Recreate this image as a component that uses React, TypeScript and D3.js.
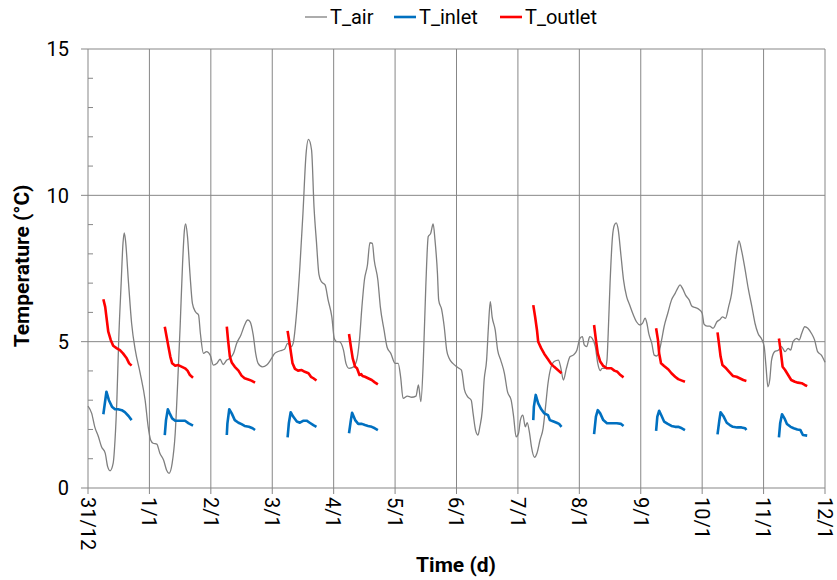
import React from "react";
import * as d3 from "d3";

const dayLabels = ["31/12", "1/1", "2/1", "3/1", "4/1", "5/1", "6/1", "7/1", "8/1", "9/1", "10/1", "11/1", "12/1"];
const yTicks = [0, 5, 10, 15];

const airT = [0.00,0.06,0.11,0.17,0.22,0.28,0.32,0.36,0.41,0.44,0.47,0.50,0.54,0.57,0.59,0.61,0.66,0.71,0.77,0.85,0.93,0.98,
1.02,1.06,1.12,1.17,1.23,1.28,1.32,1.37,1.42,1.46,1.50,1.54,1.57,1.59,1.62,1.66,1.70,1.75,1.80,1.83,1.88,1.93,1.99,
2.04,2.10,2.15,2.20,2.26,2.31,2.37,2.42,2.49,2.55,2.60,2.64,2.69,2.73,2.77,2.84,2.91,2.98,
3.04,3.13,3.20,3.25,3.31,3.34,3.40,3.45,3.50,3.55,3.59,3.64,3.68,3.72,3.76,3.80,3.86,3.91,3.97,
4.01,4.05,4.09,4.16,4.20,4.25,4.31,4.37,4.42,4.46,4.50,4.55,4.59,4.63,4.66,4.72,4.76,4.82,4.87,4.93,
5.00,5.05,5.09,5.13,5.20,5.27,5.34,5.38,5.42,5.46,5.50,5.54,5.58,5.62,5.65,5.69,5.71,5.76,5.80,5.84,5.88,5.94,
6.00,6.04,6.08,6.13,6.18,6.24,6.27,6.31,6.35,6.38,6.42,6.45,6.49,6.52,6.55,6.58,6.63,6.67,6.72,6.78,6.83,6.89,6.93,6.97,
7.01,7.04,7.08,7.12,7.15,7.19,7.22,7.27,7.31,7.36,7.41,7.45,7.49,7.54,7.59,7.66,7.70,7.74,7.79,7.85,7.90,7.96,
8.01,8.05,8.08,8.12,8.17,8.21,8.26,8.30,8.34,8.37,8.42,8.45,8.47,8.50,8.54,8.57,8.60,8.63,8.68,8.72,8.77,8.82,8.88,8.93,8.99,
9.03,9.07,9.10,9.13,9.18,9.22,9.26,9.30,9.34,9.38,9.44,9.50,9.56,9.60,9.64,9.68,9.73,9.79,9.83,9.88,9.95,
10.00,10.03,10.08,10.12,10.18,10.24,10.29,10.33,10.38,10.43,10.48,10.52,10.56,10.60,10.64,10.70,10.75,10.81,10.86,10.91,10.97,
11.01,11.04,11.07,11.10,11.13,11.18,11.24,11.29,11.35,11.40,11.44,11.48,11.54,11.58,11.62,11.67,11.72,11.78,11.83,11.88,11.94,12.00];

const airV = [2.80,2.55,2.09,1.75,1.41,1.19,0.73,0.59,0.85,1.64,3.0,5.06,7.0,8.37,8.72,8.47,7.0,5.63,4.71,3.92,3.0,2.09,
1.64,1.53,1.50,1.19,0.96,0.61,0.50,0.84,1.87,3.58,5.51,7.68,8.81,9.02,8.59,7.33,6.31,6.02,5.91,5.28,4.60,4.66,4.54,
4.20,4.26,4.40,4.22,4.37,4.43,4.60,4.94,5.23,5.57,5.74,5.68,5.23,4.60,4.26,4.14,4.20,4.40,
4.60,4.69,4.74,4.94,4.83,4.94,6.08,7.56,9.39,11.4,11.91,11.55,9.6,8.4,7.3,7.05,6.94,6.42,5.85,
5.11,5.0,5.0,4.71,4.26,4.09,4.12,4.32,5.06,6.19,7.1,7.62,8.38,8.36,7.79,7.1,6.19,5.40,4.81,4.60,
4.26,4.26,3.80,3.06,3.14,3.10,3.14,3.52,2.95,4.37,6.88,8.59,8.70,9.02,8.47,7.33,6.42,6.08,5.51,4.71,4.43,4.26,
4.15,4.09,4.03,3.35,3.12,3.0,2.55,1.98,1.81,2.09,2.66,3.69,4.37,5.51,6.37,5.85,5.40,4.71,4.37,3.92,3.29,3.0,2.44,1.75,
1.87,2.32,2.49,2.09,2.23,1.87,1.41,1.05,1.19,1.64,2.04,2.78,3.58,4.14,4.32,4.37,4.09,3.69,4.09,4.49,4.54,4.71,
5.11,5.17,4.89,4.83,5.17,5.11,4.83,4.26,4.01,4.09,4.09,4.37,5.28,6.99,8.59,8.98,9.06,8.87,7.90,7.1,6.54,6.25,5.91,5.68,5.57,
5.63,5.80,5.63,5.28,4.94,4.54,4.51,4.66,5.06,5.51,5.97,6.42,6.65,6.82,6.94,6.82,6.59,6.42,6.22,6.17,6.10,
5.97,5.60,5.53,5.53,5.46,5.68,5.76,5.85,5.80,6.19,6.65,7.33,8.02,8.44,8.13,7.45,6.82,6.19,5.63,5.28,5.08,
4.83,4.14,3.46,3.69,4.37,4.66,4.71,4.83,4.66,4.77,4.71,5.0,5.11,5.06,5.28,5.51,5.46,5.28,5.06,4.66,4.54,4.30];

// null separates daily operating periods
const outletT = [0.25,0.28,0.30,0.33,0.37,0.41,0.47,0.52,0.57,0.63,0.67,0.71,null,
1.25,1.28,1.31,1.34,1.37,1.42,1.47,1.53,1.58,1.62,1.66,1.71,null,
2.26,2.28,2.31,2.34,2.39,2.45,2.50,2.55,2.61,2.66,2.72,null,
3.25,3.29,3.33,3.37,3.42,3.48,3.53,3.59,3.63,3.67,3.72,null,
4.25,4.28,4.31,4.35,4.38,4.42,4.45,4.47,4.51,4.56,4.62,4.67,4.72,null,
7.25,7.28,7.31,7.33,7.38,7.43,7.49,7.54,7.59,7.65,7.71,null,
8.24,8.27,8.30,8.34,8.39,8.45,8.52,8.57,8.62,8.67,8.72,null,
9.25,9.28,9.30,9.33,9.38,9.45,9.50,9.56,9.61,9.67,9.72,null,
10.25,10.28,10.30,10.33,10.39,10.44,10.50,10.56,10.61,10.67,10.72,null,
11.25,11.28,11.31,11.35,11.40,11.45,11.51,11.56,11.62,11.67,11.71];
const outletV = [6.45,6.19,5.85,5.34,5.06,4.86,4.77,4.71,4.60,4.43,4.26,4.18,null,
5.51,5.17,4.83,4.49,4.26,4.18,4.20,4.14,4.09,4.01,3.86,3.77,null,
5.51,5.06,4.49,4.29,4.14,4.01,3.84,3.75,3.71,3.67,3.60,null,
5.37,4.83,4.26,4.07,4.01,4.03,3.97,3.92,3.80,3.75,3.67,null,
5.26,4.83,4.43,4.14,4.09,3.86,3.89,3.83,3.80,3.75,3.69,3.61,3.54,null,
6.25,5.85,5.40,5.0,4.77,4.58,4.40,4.24,4.14,4.03,3.92,null,
5.57,5.06,4.60,4.32,4.17,4.09,4.09,4.01,3.97,3.86,3.78,null,
5.46,5.06,4.60,4.26,4.17,4.05,3.92,3.80,3.72,3.67,3.63,null,
5.32,4.83,4.49,4.20,4.09,3.97,3.83,3.80,3.75,3.69,3.66,null,
5.11,4.66,4.14,4.03,3.86,3.69,3.63,3.60,3.58,3.52,3.48];

const inletT = [0.25,0.30,0.34,0.39,0.44,0.49,0.55,0.60,0.66,0.71,null,
1.25,1.27,1.30,1.33,1.37,1.42,1.50,1.58,1.64,1.71,null,
2.26,2.27,2.30,2.34,2.39,2.45,2.50,2.55,2.62,2.68,2.72,null,
3.25,3.27,3.30,3.34,3.40,3.45,3.51,3.56,3.61,3.67,3.72,null,
4.25,4.28,4.30,4.35,4.40,4.46,4.51,4.56,4.62,4.67,4.72,null,
7.25,7.26,7.29,7.33,7.38,7.43,7.49,7.52,7.58,7.63,7.67,7.71,null,
8.24,8.27,8.30,8.34,8.39,8.45,8.53,8.61,8.68,8.72,null,
9.25,9.27,9.30,9.34,9.38,9.44,9.50,9.56,9.61,9.67,9.72,null,
10.25,10.28,10.30,10.35,10.40,10.45,10.50,10.57,10.64,10.70,10.72,null,
11.25,11.27,11.30,11.34,11.38,11.44,11.49,11.55,11.60,11.64,11.71];
const inletV = [2.52,3.29,3.0,2.78,2.69,2.69,2.66,2.59,2.46,2.32,null,
1.81,2.32,2.69,2.55,2.38,2.30,2.30,2.30,2.21,2.13,null,
1.81,2.21,2.69,2.55,2.32,2.23,2.18,2.12,2.09,2.04,1.98,null,
1.73,2.21,2.59,2.44,2.27,2.23,2.30,2.30,2.23,2.15,2.09,null,
1.87,2.32,2.57,2.32,2.19,2.19,2.15,2.12,2.09,2.04,1.98,null,
2.32,2.78,3.18,2.89,2.69,2.55,2.49,2.32,2.27,2.23,2.19,2.09,null,
1.84,2.44,2.66,2.55,2.32,2.21,2.21,2.21,2.19,2.12,null,
1.95,2.44,2.64,2.46,2.27,2.19,2.12,2.09,2.09,2.04,1.98,null,
1.83,2.32,2.59,2.44,2.23,2.15,2.09,2.07,2.07,2.04,1.98,null,
1.73,2.21,2.52,2.38,2.19,2.09,2.04,2.0,1.98,1.81,1.79];

const seriesNames = ["T_air", "T_inlet", "T_outlet"];
const seriesColors = ["#7f7f7f", "#0070c0", "#ff0000"];
const seriesWidths = [1.3, 2.6, 2.6];

const W = 837, H = 580;
const FONT = "Roboto, 'Liberation Sans', sans-serif";

export default function App() {
  const x = d3.scaleLinear().domain([0, 12]).range([88, 825]);
  const y = d3.scaleLinear().domain([0, 15]).range([488, 49]);

  const pts = (ts: (number | null)[], vs: (number | null)[]) =>
    ts.map((t, i) => [t, vs[i]] as [number | null, number | null]);

  const lineSeg = d3.line<[number | null, number | null]>()
    .defined(d => d[0] !== null && d[1] !== null)
    .x(d => x(d[0] as number))
    .y(d => y(d[1] as number));
  const lineAir = d3.line<[number | null, number | null]>()
    .x(d => x(d[0] as number))
    .y(d => y(d[1] as number))
    .curve(d3.curveMonotoneX);

  const days = d3.range(0, 13);
  const minor = d3.range(1, 15).filter(v => v % 5 !== 0);
  const grid = "#878787";

  const legendItems = [
    { x0: 305, tx: 330 },
    { x0: 394, tx: 419 },
    { x0: 500, tx: 525 },
  ];

  return (
    <svg width={W} height={H} style={{ display: "block", position: "absolute", left: 0, top: 0 }} fontFamily={FONT}>
      <rect width={W} height={H} fill="#fff" />
      {days.slice(1).map(d => (
        <line key={"vg" + d} x1={x(d)} x2={x(d)} y1={y(15)} y2={y(0)} stroke={grid} strokeWidth={1} />
      ))}
      {yTicks.slice(1).map(v => (
        <line key={"hg" + v} x1={x(0)} x2={x(12)} y1={y(v)} y2={y(v)} stroke={grid} strokeWidth={1} />
      ))}
      <line x1={x(0)} x2={x(0)} y1={y(15)} y2={y(0)} stroke={grid} strokeWidth={1} />
      <line x1={x(0)} x2={x(12)} y1={y(0)} y2={y(0)} stroke={grid} strokeWidth={1} />
      {yTicks.map(v => (
        <line key={"yt" + v} x1={x(0) - 7} x2={x(0)} y1={y(v)} y2={y(v)} stroke={grid} />
      ))}
      {minor.map(v => (
        <line key={"ym" + v} x1={x(0)} x2={x(0) + 5} y1={y(v)} y2={y(v)} stroke={grid} />
      ))}
      {days.map(d => (
        <line key={"xt" + d} x1={x(d)} x2={x(d)} y1={y(0)} y2={y(0) + 6} stroke={grid} />
      ))}
      {yTicks.map(v => (
        <text key={"yl" + v} x={x(0) - 19} y={y(v)} dy="0.36em" textAnchor="end" fontSize={20} fill="#000">{v}</text>
      ))}
      {dayLabels.map((lab, i) => (
        <text key={"xl" + i} transform={`translate(${x(i)},${y(0) + 9}) rotate(90)`} dy="0.36em" textAnchor="start" fontSize={20} fill="#000">{lab}</text>
      ))}
      <path d={lineAir(pts(airT, airV)) || ""} fill="none" stroke={seriesColors[0]} strokeWidth={seriesWidths[0]} />
      <path d={lineSeg(pts(inletT, inletV)) || ""} fill="none" stroke={seriesColors[1]} strokeWidth={seriesWidths[1]} strokeLinejoin="round" />
      <path d={lineSeg(pts(outletT, outletV)) || ""} fill="none" stroke={seriesColors[2]} strokeWidth={seriesWidths[2]} strokeLinejoin="round" />
      <text x={456} y={572} textAnchor="middle" fontSize={21} fontWeight="bold" fill="#000">Time (d)</text>
      <text transform="translate(29,266) rotate(-90)" textAnchor="middle" fontSize={21} fontWeight="bold" fill="#000">Temperature (°C)</text>
      {seriesNames.map((n, i) => (
        <g key={n}>
          <line x1={legendItems[i].x0} x2={legendItems[i].x0 + 22} y1={17} y2={17} stroke={seriesColors[i]} strokeWidth={i === 0 ? 1.3 : 2.6} />
          <text x={legendItems[i].tx} y={17} dy="0.36em" fontSize={20} fill="#000">{n}</text>
        </g>
      ))}
    </svg>
  );
}
